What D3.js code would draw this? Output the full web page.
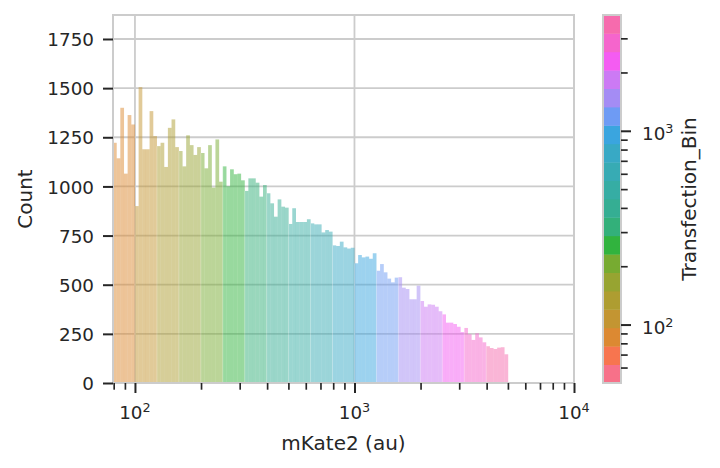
<!DOCTYPE html>
<html>
<head>
<meta charset="utf-8">
<style>
body { margin: 0; background: #fff; }
text { font-family: "DejaVu Sans", sans-serif; fill: #262626; }
</style>
</head>
<body>
<script src="https://cdn.jsdelivr.net/npm/d3@7"></script>
<script>
// histogram counts, one row per Transfection_Bin hue group (6 bins each, log spaced)
const counts = [
    [1222, 1143, 1400, 1065, 1363, 1315],
    [900, 1505, 1189, 1189, 1383, 1256],
    [1205, 1222, 1099, 1298, 1341, 1200],
    [1180, 1102, 1260, 1210, 1160, 1200],
    [1170, 1092, 1210, 994, 1239, 1024],
    [1102, 1001, 1087, 1062, 1065, 1031],
    [977, 1041, 1041, 1019, 948, 1007],
    [965, 914, 846, 934, 897, 892],
    [809, 889, 819, 819, 819, 833],
    [812, 807, 807, 766, 778, 770],
    [700, 697, 719, 690, 684, 688],
    [609, 651, 639, 643, 632, 660],
    [571, 605, 563, 531, 512, 536],
    [538, 485, 478, 426, 426, 495],
    [417, 388, 400, 398, 388, 365],
    [349, 307, 307, 300, 286, 259],
    [280, 248, 219, 253, 232, 207],
    [187, 178, 173, 180, 182, 146]
]
const binLogStart = 1.9        // log10 of the first bin edge
const binLogWidth = 1 / 60     // bin width in decades
const hueOffset = 2            // first hue group uses palette colour #3
const nColors = 20

const yTicks = [0, 250, 500, 750, 1000, 1250, 1500, 1750]
const xMajor = [100, 1000, 10000]
const xMinor = [80, 90, 200, 300, 400, 500, 600, 700, 800, 900,
                2000, 3000, 4000, 5000, 6000, 7000, 8000, 9000]
const cbMajor = [100, 1000]
const cbMinor = [60, 70, 80, 90, 200, 300, 400, 500, 600, 700, 800, 900, 2000, 3000]

// seaborn husl palette
const M = [[3.2406, -1.5372, -0.4986], [-0.9689, 1.8758, 0.0415], [0.0557, -0.2040, 1.0570]]
const refU = 0.19784, refV = 0.46834, kappa = 903.3, eps = 0.008856

function maxChroma (L, H) {
    const hr = H * Math.PI / 180, sinH = Math.sin(hr), cosH = Math.cos(hr)
    const sub1 = Math.pow(L + 16, 3) / 1560896
    const sub2 = sub1 > eps ? sub1 : L / kappa
    let result = Infinity
    for (const [m1, m2, m3] of M) {
        const top = (0.99915 * m1 + 1.05122 * m2 + 1.14460 * m3) * sub2
        const rb = 0.86330 * m3 - 0.17266 * m2
        const lb = 0.12949 * m3 - 0.38848 * m1
        const bottom = (rb * sinH + lb * cosH) * sub2
        for (const t of [0, 1]) {
            const C = L * (top - 1.05122 * t) / (bottom + 0.17266 * sinH * t)
            if (C > 0 && C < result) result = C
        }
    }
    return result
}

function huslToRgb (H, S, L) {
    const C = maxChroma(L, H) / 100 * S
    const hr = H * Math.PI / 180
    const U = Math.cos(hr) * C, V = Math.sin(hr) * C
    const fInv = t => Math.pow(t, 3) > eps ? Math.pow(t, 3) : (116 * t - 16) / kappa
    const Y = fInv((L + 16) / 116)
    const vu = U / (13 * L) + refU, vv = V / (13 * L) + refV
    const X = -(9 * Y * vu) / ((vu - 4) * vv - vu * vv)
    const Z = (9 * Y - 15 * vv * Y - vv * X) / (3 * vv)
    const rgb = M.map(r => {
        let c = r[0] * X + r[1] * Y + r[2] * Z
        c = c <= 0.0031308 ? 12.92 * c : 1.055 * Math.pow(c, 1 / 2.4) - 0.055
        return Math.round(255 * Math.max(0, Math.min(1, c)))
    })
    return d3.rgb(...rgb).formatHex()
}

const palette = d3.range(nColors).map(i => {
    const h = ((i / nColors + 0.01) % 1) * 359
    return huslToRgb(h, 0.9 * 99, 0.65 * 99)
})

const W = 720, H = 468
const box = { left: 113, right: 574, top: 15, bottom: 383 }
const cb = { left: 603, right: 621, top: 15, bottom: 383 }

const svg = d3.select('body').append('svg')
    .attr('width', W).attr('height', H)

const x = d3.scaleLog().domain([Math.pow(10, 1.9), 1e4]).range([box.left, box.right])
const y = d3.scaleLinear().domain([0, 1872]).range([box.bottom, box.top])

// grid
const grid = svg.append('g').attr('stroke', '#cccccc').attr('stroke-width', 1.8)
grid.selectAll('.gy').data(yTicks).enter().append('line')
    .attr('x1', box.left).attr('x2', box.right)
    .attr('y1', d => y(d)).attr('y2', d => y(d))
grid.selectAll('.gx').data(xMajor).enter().append('line')
    .attr('x1', d => x(d)).attr('x2', d => x(d))
    .attr('y1', box.top).attr('y2', box.bottom)

// bars
const bars = []
counts.forEach((group, g) => {
    group.forEach((c, j) => {
        const k = g * group.length + j
        bars.push({
            x0: Math.pow(10, binLogStart + k * binLogWidth),
            x1: Math.pow(10, binLogStart + (k + 1) * binLogWidth),
            count: c,
            color: palette[g + hueOffset],
            first: j === 0
        })
    })
})

svg.append('g').selectAll('rect').data(bars).enter().append('rect')
    .attr('x', d => x(d.x0))
    .attr('width', d => x(d.x1) - x(d.x0) + 0.05)
    .attr('y', d => y(d.count))
    .attr('height', d => y(0) - y(d.count))
    .attr('fill', d => d.color)
    .attr('fill-opacity', 0.5)

// faint edge between hue groups
svg.append('g').selectAll('line').data(bars.filter(d => d.first && d.x0 > x.domain()[0] * 1.01)).enter()
    .append('line')
    .attr('x1', d => x(d.x0)).attr('x2', d => x(d.x0))
    .attr('y1', d => y(d.count)).attr('y2', y(0))
    .attr('stroke', '#fff').attr('stroke-opacity', 0.35).attr('stroke-width', 0.8)

// spines
svg.append('rect')
    .attr('x', box.left).attr('y', box.top)
    .attr('width', box.right - box.left).attr('height', box.bottom - box.top)
    .attr('fill', 'none').attr('stroke', '#cccccc').attr('stroke-width', 2)

// y axis
const yAxis = svg.append('g')
    .attr('transform', `translate(${box.left},0)`)
    .call(d3.axisLeft(y).tickValues(yTicks).tickFormat(d3.format('d')).tickSize(10).tickPadding(9))
yAxis.select('.domain').remove()
yAxis.selectAll('line').attr('stroke', '#262626').attr('stroke-width', 2)
yAxis.selectAll('text').attr('font-size', 18.33).attr('fill', '#262626')
    .attr('font-family', '"DejaVu Sans"').attr('dy', '0.36em')

// x axis
const xAxisMinor = svg.append('g')
    .attr('transform', `translate(0,${box.bottom})`)
    .call(d3.axisBottom(x).tickValues(xMinor).tickSize(6.7).tickFormat(''))
const xAxisMajor = svg.append('g')
    .attr('transform', `translate(0,${box.bottom})`)
    .call(d3.axisBottom(x).tickValues(xMajor).tickSize(10).tickFormat(''))
for (const a of [xAxisMinor, xAxisMajor]) {
    a.select('.domain').remove()
}
xAxisMinor.selectAll('line').attr('stroke', '#262626').attr('stroke-width', 1.67)
xAxisMajor.selectAll('line').attr('stroke', '#262626').attr('stroke-width', 2)

function powerLabel (sel, v) {
    const e = Math.round(Math.log10(v))
    sel.append('tspan').text('10')
    sel.append('tspan').text(e).attr('font-size', 12.8).attr('dy', -7.3)
}

xMajor.forEach(v => {
    const t = svg.append('text')
        .attr('x', x(v)).attr('y', 419)
        .attr('text-anchor', 'middle').attr('font-size', 18.33)
    powerLabel(t, v)
})

svg.append('text')
    .attr('x', (box.left + box.right) / 2).attr('y', 450)
    .attr('text-anchor', 'middle').attr('font-size', 20)
    .text('mKate2 (au)')

svg.append('text')
    .attr('transform', `translate(32,${(box.top + box.bottom) / 2}) rotate(-90)`)
    .attr('text-anchor', 'middle').attr('font-size', 20)
    .text('Count')

// colorbar
const cLo = Math.pow(10, 1.6984), cHi = Math.pow(10, 3.5976)
const c = d3.scaleLog().domain([cLo, cHi]).range([cb.bottom, cb.top])
const step = (Math.log10(cHi) - Math.log10(cLo)) / nColors
svg.append('g').selectAll('rect').data(palette).enter().append('rect')
    .attr('x', cb.left)
    .attr('y', (d, i) => c(Math.pow(10, Math.log10(cLo) + (i + 1) * step)))
    .attr('width', cb.right - cb.left)
    .attr('height', (d, i) => c(Math.pow(10, Math.log10(cLo) + i * step)) - c(Math.pow(10, Math.log10(cLo) + (i + 1) * step)) + 0.4)
    .attr('fill', d => d)
svg.append('rect')
    .attr('x', cb.left).attr('y', cb.top)
    .attr('width', cb.right - cb.left).attr('height', cb.bottom - cb.top)
    .attr('fill', 'none').attr('stroke', '#cccccc').attr('stroke-width', 2)

const cbMinorAxis = svg.append('g')
    .attr('transform', `translate(${cb.right},0)`)
    .call(d3.axisRight(c).tickValues(cbMinor).tickSize(6.7).tickFormat(''))
const cbMajorAxis = svg.append('g')
    .attr('transform', `translate(${cb.right},0)`)
    .call(d3.axisRight(c).tickValues(cbMajor).tickSize(10).tickFormat(''))
for (const a of [cbMinorAxis, cbMajorAxis]) a.select('.domain').remove()
cbMinorAxis.selectAll('line').attr('stroke', '#262626').attr('stroke-width', 1.67)
cbMajorAxis.selectAll('line').attr('stroke', '#262626').attr('stroke-width', 2)

cbMajor.forEach(v => {
    const t = svg.append('text')
        .attr('x', 642).attr('y', c(v) + 9.3)
        .attr('font-size', 18.33)
    powerLabel(t, v)
})

svg.append('text')
    .attr('transform', `translate(696,${(cb.top + cb.bottom) / 2}) rotate(-90)`)
    .attr('text-anchor', 'middle').attr('font-size', 20)
    .text('Transfection_Bin')
</script>
</body>
</html>
